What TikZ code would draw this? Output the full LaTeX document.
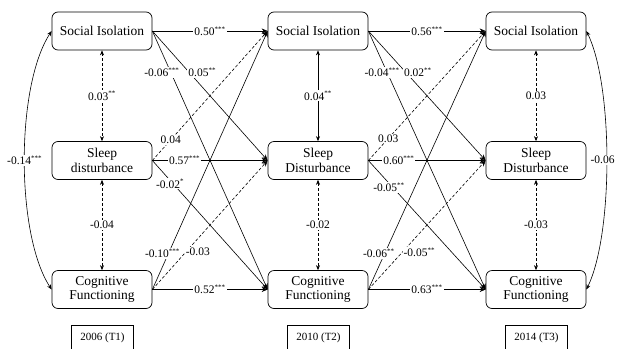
\documentclass[tikz,border=0pt]{standalone}
\usepackage{fontspec}
\setmainfont{Liberation Serif}
\usetikzlibrary{arrows.meta}

\newcommand{\sig}[1]{\textsuperscript{\fontsize{7}{7}\selectfont#1}}

\begin{document}
\begin{tikzpicture}[x=1pt, y=-1pt,
        varbox/.style={draw, rounded corners=6pt, line width=0.7pt, minimum width=100pt, minimum height=38pt, align=center, font=\fontsize{13.5}{14.5}\selectfont},
        yearbox/.style={draw, line width=0.7pt, minimum width=62pt, minimum height=26pt, font=\fontsize{11}{12}\selectfont},
        lag/.style={-{Stealth[length=6pt,width=5pt]}, line width=0.6pt},
        cov/.style={{Stealth[length=5pt,width=4pt]}-{Stealth[length=5pt,width=4pt]}, line width=0.6pt},
        nsig/.style={dashed, dash pattern=on 3pt off 2pt},
        coef/.style={fill=white, inner sep=1pt, font=\fontsize{11.5}{13}\selectfont}]
    \useasboundingbox (0,0) rectangle (617,348);

    % variables at each wave
    \foreach \w/\x/\sl/\yr in {A/102/disturbance/2006 (T1), B/318/Disturbance/2010 (T2), C/536/Disturbance/2014 (T3)} {
        \node[varbox] (si\w) at (\x,31) {Social Isolation};
        \node[varbox] (sl\w) at (\x,160.5) {Sleep\\\sl};
        \node[varbox] (cf\w) at (\x,289.5) {Cognitive\\Functioning};
        \node[yearbox] (yr\w) at (\x+0.5,338) {\yr};
    }

    % within-wave associations
    \draw[cov, nsig] (siA) -- node[coef] {0.03\sig{**}} (slA);
    \draw[cov, nsig] (slA) -- node[coef] {-0.04} (cfA);
    \draw[cov] (siB) -- node[coef] {0.04\sig{**}} (slB);
    \draw[cov, nsig] (slB) -- node[coef] {-0.02} (cfB);
    \draw[cov, nsig] (siC) -- node[coef] {0.03} (slC);
    \draw[cov, nsig] (slC) -- node[coef] {-0.03} (cfC);
    \draw[cov] (siA.west) .. controls +(-36,55) and +(-36,-55) .. node[coef] {-0.14\sig{***}} (cfA.west);
    \draw[cov] (siC.east) .. controls +(27,55) and +(27,-55) .. node[coef, xshift=-4pt] {-0.06} (cfC.east);

    % cross-lagged paths
    \foreach \s/\t/\sty/\p/\dx/\lab in {
        siA/siB/solid/0.5/0/{0.50\sig{***}},
        siA/slB/solid/0.32/13/{0.05\sig{**}},
        siA/cfB/solid/0.16/-9/{-0.06\sig{***}},
        slA/siB/nsig/0.16/0/{0.04},
        slA/slB/solid/0.28/0/{0.57\sig{***}},
        slA/cfB/solid/0.18/-3/{-0.02\sig{*}},
        cfA/siB/solid/0.14/-6/{-0.10\sig{***}},
        cfA/slB/nsig/0.29/12/{-0.03},
        cfA/cfB/solid/0.5/0/{0.52\sig{***}},
        siB/siC/solid/0.5/0/{0.56\sig{***}},
        siB/slC/solid/0.32/12/{0.02\sig{**}},
        siB/cfC/solid/0.16/-5/{-0.04\sig{***}},
        slB/siC/nsig/0.17/0/{0.03},
        slB/slC/solid/0.26/0/{0.60\sig{***}},
        slB/cfC/solid/0.21/-4/{-0.05\sig{**}},
        cfB/siC/solid/0.14/-6/{-0.06\sig{**}},
        cfB/slC/nsig/0.29/17/{-0.05\sig{**}},
        cfB/cfC/solid/0.5/0/{0.63\sig{***}}} {
        \draw[lag, \sty] (\s.east) -- node[coef, pos=\p, xshift=\dx pt] {\lab} (\t.west);
    }
\end{tikzpicture}
\end{document}
